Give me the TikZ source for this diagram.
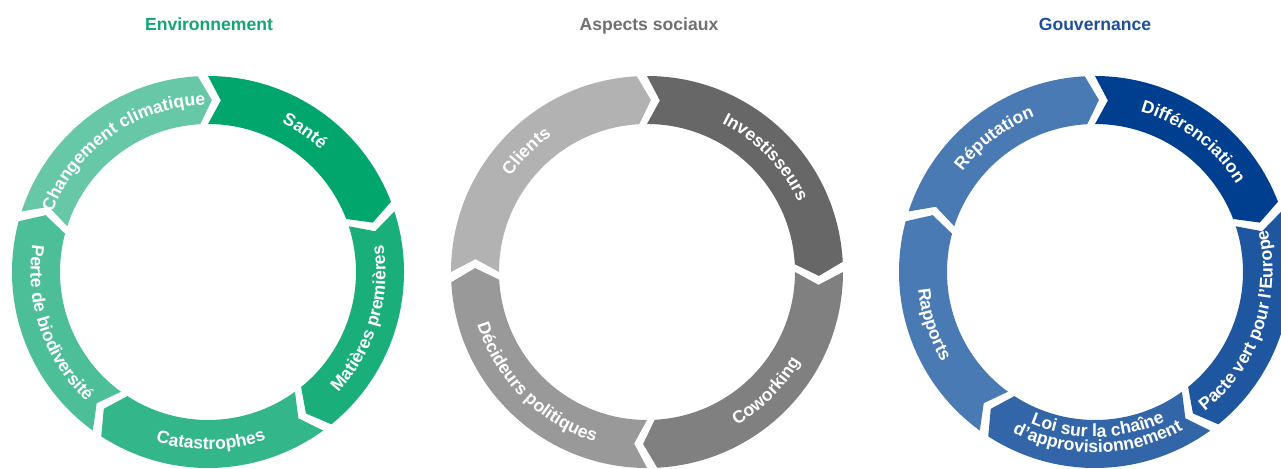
\documentclass[tikz,border=0pt]{standalone}
\usepackage{fontspec}
\setmainfont{Liberation Sans}
\usepackage{tikz}
\usetikzlibrary{decorations.text}

\definecolor{envA}{HTML}{00A66C}
\definecolor{envB}{HTML}{1AAE7B}
\definecolor{envC}{HTML}{33B68A}
\definecolor{envD}{HTML}{4DBF98}
\definecolor{envE}{HTML}{66C8A7}
\definecolor{socA}{HTML}{676767}
\definecolor{socB}{HTML}{808080}
\definecolor{socC}{HTML}{999999}
\definecolor{socD}{HTML}{B2B2B2}
\definecolor{govA}{HTML}{003F8F}
\definecolor{govB}{HTML}{1F56A0}
\definecolor{govC}{HTML}{3366A8}
\definecolor{govD}{HTML}{4A7AB4}
\definecolor{envtxt}{HTML}{14A66E}
\definecolor{soctxt}{HTML}{707070}
\definecolor{govtxt}{HTML}{1D4F9C}

\newcommand{\ringout}{3.92}
\newcommand{\ringin}{2.96}
\newcommand{\ringmid}{3.44}
\newcommand{\basecw}{3.33}
\newcommand{\baseccw}{3.55}
\newcommand{\gapang}{1.5}
\newcommand{\tipang}{4.3}
\newcommand{\lblfont}{\fontsize{10}{12}\selectfont\bfseries}

% ring piece: centre, start angle, end angle, colour
\newcommand{\ringseg}[4]{%
	\fill[#4, shift={(#1)}] ({#2-\gapang}:\ringout) arc[start angle={#2-\gapang}, end angle={#3+\gapang}, radius=\ringout]
		-- ({#3+\gapang-\tipang}:\ringmid) -- ({#3+\gapang}:\ringin)
		arc[start angle={#3+\gapang}, end angle={#2-\gapang}, radius=\ringin]
		-- ({#2-\gapang-\tipang}:\ringmid) -- cycle;}
% label on the upper half (clockwise)
\newcommand{\cwlabel}[3]{%
	\path[shift={(#1)}, decorate, decoration={text along path, text align=center, text color=white, text={|\lblfont|#3}}]
		({#2+45}:\basecw) arc[start angle={#2+45}, end angle={#2-45}, radius=\basecw];}
% label on the lower half (counter-clockwise)
\newcommand{\ccwlabel}[4]{%
	\path[shift={(#1)}, decorate, decoration={text along path, text align=center, text color=white, text={|\lblfont|#4}}]
		({#2-45}:#3) arc[start angle={#2-45}, end angle={#2+45}, radius=#3];}

\begin{document}
\begin{tikzpicture}[
	title/.style={font=\fontsize{10}{12}\selectfont\bfseries, anchor=base}
	]
	\useasboundingbox (0,0) rectangle (25.62,9.38);
	\clip (0,0) rectangle (25.62,9.38);
	
	% Nodes
	\coordinate (env) at (4.16,3.94);
	\coordinate (soc) at (12.94,3.94);
	\coordinate (gov) at (21.9,3.94);
	
	\node[title, text=envtxt] (envtitle) at (4.18,8.76) {Environnement};
	\node[title, text=soctxt] (soctitle) at (12.98,8.76) {Aspects sociaux};
	\node[title, text=govtxt] (govtitle) at (21.9,8.76) {Gouvernance};
	
	% Environnement
	\ringseg{env}{91.5}{19.5}{envA}
	\ringseg{env}{19.5}{-52.5}{envB}
	\ringseg{env}{-52.5}{-124.5}{envC}
	\ringseg{env}{-124.5}{-196.5}{envD}
	\ringseg{env}{163.5}{91.5}{envE}
	
	\cwlabel{env}{55.5}{Santé}
	\ccwlabel{env}{-17}{\baseccw}{Matières premières}
	\ccwlabel{env}{-89}{\baseccw}{Catastrophes}
	\ccwlabel{env}{-161}{\baseccw}{Perte de biodiversité}
	\cwlabel{env}{125}{Changement climatique}
	
	% Aspects sociaux
	\ringseg{soc}{181.5}{91.5}{socD}
	\ringseg{soc}{91.5}{1.5}{socA}
	\ringseg{soc}{1.5}{-88.5}{socB}
	\ringseg{soc}{-88.5}{-178.5}{socC}
	
	\cwlabel{soc}{135}{Clients}
	\cwlabel{soc}{44}{Investisseurs}
	\ccwlabel{soc}{-45}{\baseccw}{Coworking}
	\ccwlabel{soc}{-135}{\baseccw}{Décideurs politiques}
	
	% Gouvernance
	\ringseg{gov}{91.5}{19.5}{govA}
	\ringseg{gov}{19.5}{-52.5}{govB}
	\ringseg{gov}{-52.5}{-124.5}{govC}
	\ringseg{gov}{-124.5}{-196.5}{govD}
	\ringseg{gov}{163.5}{91.5}{govD}
	
	\cwlabel{gov}{53}{Différenciation}
	\ccwlabel{gov}{-19}{\baseccw}{Pacte vert pour l’Europe}
	\ccwlabel{gov}{-89}{3.30}{Loi sur la chaîne}
	\ccwlabel{gov}{-89}{3.61}{d’approvisionnement}
	\ccwlabel{gov}{-162}{\baseccw}{Rapports}
	\cwlabel{gov}{127}{Réputation}
	
\end{tikzpicture}
\end{document}
